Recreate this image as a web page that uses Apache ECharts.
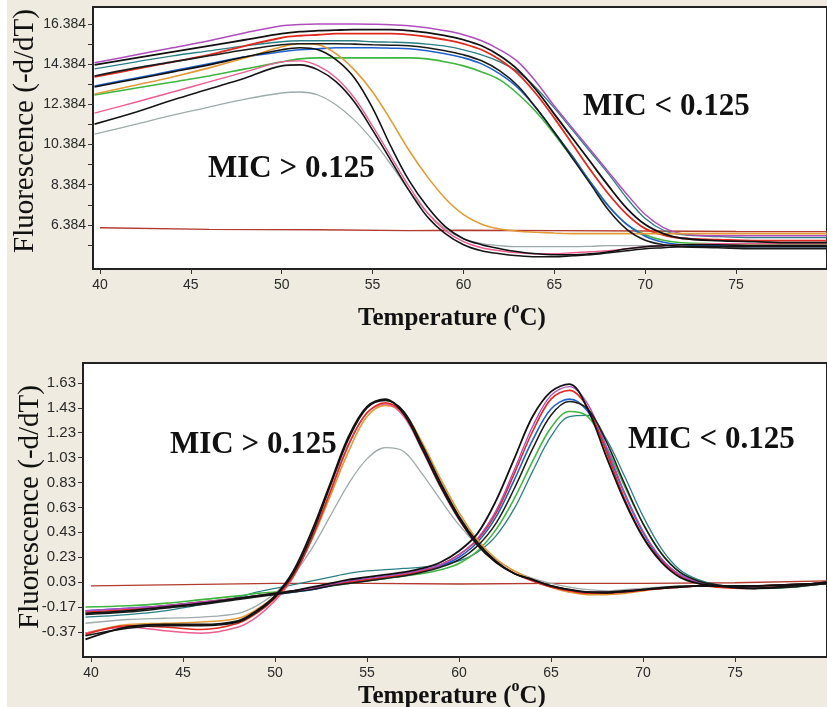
<!DOCTYPE html>
<html>
<head>
<meta charset="utf-8">
<script src="https://cdn.jsdelivr.net/npm/echarts@6/dist/echarts.min.js"></script>
<style>
  html, body { margin: 0; padding: 0; background: #ffffff; }
  #chart { width: 827px; height: 707px; }
</style>
</head>
<body>
<div id="chart"></div>
<script>
// ---- top panel: melt curves (fluorescence vs temperature) ----
const topTemps = [39.7, 42, 44, 46, 48, 50, 51, 52, 53, 54, 55, 56, 57, 58, 59, 60, 61, 62, 63, 64, 65, 66, 67, 68, 69, 70, 71, 72, 74, 76, 78, 80];

// MIC < 0.125 (melt ~66 C)
const topMagenta = [14.45, 14.85, 15.2, 15.55, 15.95, 16.3, 16.36, 16.38, 16.38, 16.38, 16.37, 16.35, 16.3, 16.2, 16.05, 15.85, 15.55, 15.1, 14.5, 13.5, 12.3, 11.2, 10.1, 9.0, 7.9, 6.9, 6.25, 5.95, 5.85, 5.85, 5.85, 5.85];
const topBlackB1 = [14.35, 14.7, 15.0, 15.3, 15.6, 15.9, 16.0, 16.05, 16.08, 16.1, 16.1, 16.1, 16.05, 15.95, 15.8, 15.6, 15.3, 14.8, 14.1, 13.1, 11.9, 10.7, 9.5, 8.3, 7.2, 6.4, 5.95, 5.72, 5.6, 5.55, 5.5, 5.5];
const topRedB = [13.75, 14.15, 14.5, 14.85, 15.3, 15.7, 15.8, 15.85, 15.9, 15.9, 15.9, 15.9, 15.85, 15.75, 15.6, 15.4, 15.1, 14.6, 13.9, 12.9, 11.7, 10.4, 9.1, 7.9, 6.9, 6.2, 5.88, 5.72, 5.65, 5.6, 5.6, 5.6];
const topTeal = [14.15, 14.5, 14.8, 15.05, 15.3, 15.5, 15.55, 15.55, 15.55, 15.55, 15.5, 15.48, 15.45, 15.38, 15.28, 15.1, 14.85, 14.5, 14.0, 13.2, 12.2, 11.1, 10.0, 8.9, 7.7, 6.7, 6.12, 5.9, 5.8, 5.75, 5.75, 5.75];
const topBlackB2 = [13.8, 14.2, 14.5, 14.8, 15.1, 15.35, 15.4, 15.4, 15.4, 15.38, 15.35, 15.33, 15.3, 15.2, 15.05, 14.85, 14.55, 14.05, 13.3, 12.2, 11.0, 9.7, 8.4, 7.1, 6.15, 5.62, 5.4, 5.3, 5.25, 5.2, 5.2, 5.2];
const topBlue = [13.3, 13.7, 14.05, 14.4, 14.75, 15.0, 15.1, 15.15, 15.2, 15.2, 15.2, 15.18, 15.15, 15.05, 14.9, 14.7, 14.4, 13.9, 13.2, 12.2, 11.0, 9.8, 8.5, 7.3, 6.4, 5.82, 5.52, 5.4, 5.35, 5.3, 5.3, 5.3];
const topGreen = [12.85, 13.2, 13.5, 13.8, 14.15, 14.5, 14.65, 14.7, 14.7, 14.7, 14.7, 14.7, 14.7, 14.65, 14.5, 14.3, 14.0, 13.6, 12.9, 12.0, 10.9, 9.7, 8.5, 7.3, 6.4, 5.9, 5.62, 5.5, 5.45, 5.4, 5.4, 5.4];

// MIC > 0.125 (melt ~57 C)
const topBlackA1 = [13.25, 13.65, 14.0, 14.35, 14.75, 15.1, 15.2, 15.1, 14.6, 13.7, 12.2, 10.3, 8.6, 7.3, 6.3, 5.7, 5.4, 5.2, 5.05, 4.95, 4.9, 4.9, 4.95, 5.05, 5.2, 5.3, 5.35, 5.4, 5.4, 5.35, 5.35, 5.35];
const topOrange = [12.9, 13.35, 13.75, 14.2, 14.7, 15.25, 15.4, 15.35, 14.9, 14.1, 13.0, 11.6, 10.1, 8.8, 7.7, 6.9, 6.42, 6.18, 6.07, 6.02, 5.98, 5.95, 5.95, 5.95, 5.95, 5.95, 5.95, 5.95, 5.95, 5.95, 5.95, 5.95];
const topPink = [11.95, 12.5, 13.0, 13.5, 14.0, 14.5, 14.55, 14.3, 13.7, 12.7, 11.3, 9.8, 8.3, 7.0, 6.1, 5.55, 5.25, 5.1, 5.0, 4.95, 4.95, 5.0, 5.05, 5.1, 5.2, 5.3, 5.35, 5.4, 5.45, 5.45, 5.45, 5.45];
const topBlackA2 = [11.4, 12.0, 12.6, 13.15, 13.7, 14.3, 14.35, 14.1, 13.5, 12.5, 11.1, 9.6, 8.1, 6.8, 5.95, 5.4, 5.1, 4.95, 4.85, 4.8, 4.8, 4.85, 4.9, 5.0, 5.1, 5.2, 5.25, 5.3, 5.3, 5.3, 5.3, 5.3];
const topGray = [10.9, 11.4, 11.85, 12.25, 12.65, 12.95, 13.0, 12.85, 12.35, 11.6, 10.6, 9.4, 8.1, 7.0, 6.2, 5.7, 5.45, 5.35, 5.3, 5.3, 5.3, 5.3, 5.32, 5.35, 5.35, 5.35, 5.35, 5.35, 5.35, 5.35, 5.35, 5.35];

// control (no template), read as a near-flat line
const topCtrlTemps = [40, 46, 52, 57, 60, 65, 70, 75, 80];
const topControl = [6.24, 6.16, 6.14, 6.1, 6.12, 6.1, 6.08, 6.06, 6.05];

const topYLabels = [6.384, 8.384, 10.384, 12.384, 14.384, 16.384];
const topYTicks = [5.384, 6.384, 7.384, 8.384, 9.384, 10.384, 11.384, 12.384, 13.384, 14.384, 15.384, 16.384];

// ---- bottom panel: derivative curves ----
const botTemps = [39.7, 42, 44, 46, 48, 49, 50, 51, 52, 53, 54, 55, 56, 57, 58, 59, 60, 61, 62, 63, 64, 65, 66, 67, 68, 69, 70, 71, 72, 73, 74, 76, 78, 80];

// MIC < 0.125 (peak ~66 C)
const botBlackB1 = [-0.22, -0.2, -0.17, -0.14, -0.1, -0.08, -0.06, -0.04, -0.01, 0.02, 0.05, 0.07, 0.09, 0.11, 0.14, 0.19, 0.28, 0.42, 0.68, 1.02, 1.36, 1.56, 1.62, 1.42, 1.04, 0.68, 0.39, 0.19, 0.07, 0.02, 0.0, -0.02, 0.0, 0.03];
const botMagenta = [-0.2, -0.18, -0.16, -0.13, -0.1, -0.08, -0.06, -0.04, -0.02, 0.01, 0.04, 0.06, 0.08, 0.1, 0.13, 0.17, 0.25, 0.38, 0.6, 0.93, 1.28, 1.53, 1.6, 1.46, 1.12, 0.75, 0.44, 0.22, 0.09, 0.03, 0.0, -0.02, 0.0, 0.03];
const botRedB = [-0.21, -0.19, -0.16, -0.13, -0.1, -0.08, -0.06, -0.04, -0.02, 0.01, 0.03, 0.05, 0.07, 0.09, 0.12, 0.17, 0.25, 0.37, 0.58, 0.9, 1.24, 1.5, 1.57, 1.43, 1.08, 0.7, 0.4, 0.2, 0.08, 0.02, -0.01, -0.02, 0.0, 0.03];
const botBlue = [-0.2, -0.18, -0.16, -0.13, -0.1, -0.08, -0.07, -0.05, -0.03, 0.0, 0.03, 0.05, 0.07, 0.09, 0.12, 0.16, 0.23, 0.35, 0.55, 0.85, 1.17, 1.42, 1.5, 1.4, 1.1, 0.74, 0.43, 0.21, 0.09, 0.03, 0.0, -0.02, 0.0, 0.03];
const botBlackB2 = [-0.23, -0.21, -0.18, -0.15, -0.11, -0.09, -0.07, -0.05, -0.03, 0.0, 0.02, 0.04, 0.06, 0.08, 0.11, 0.15, 0.21, 0.32, 0.5, 0.78, 1.1, 1.37, 1.48, 1.42, 1.16, 0.82, 0.5, 0.26, 0.11, 0.04, 0.01, -0.02, -0.01, 0.02];
const botGreen = [-0.17, -0.16, -0.14, -0.11, -0.08, -0.06, -0.05, -0.04, -0.02, 0.0, 0.02, 0.04, 0.06, 0.08, 0.1, 0.13, 0.18, 0.28, 0.45, 0.7, 1.0, 1.27, 1.4, 1.36, 1.12, 0.8, 0.5, 0.26, 0.11, 0.04, 0.0, -0.02, -0.01, 0.02];
const botTeal = [-0.25, -0.23, -0.2, -0.15, -0.09, -0.05, -0.02, 0.01, 0.04, 0.07, 0.1, 0.12, 0.13, 0.14, 0.15, 0.17, 0.2, 0.27, 0.4, 0.62, 0.92, 1.2, 1.36, 1.37, 1.18, 0.88, 0.56, 0.3, 0.13, 0.05, 0.01, -0.02, -0.01, 0.02];

// MIC > 0.125 (peak ~56 C)
const botBlackA1 = [-0.43, -0.33, -0.31, -0.31, -0.28, -0.2, -0.08, 0.12, 0.44, 0.82, 1.2, 1.44, 1.5, 1.38, 1.1, 0.8, 0.54, 0.33, 0.19, 0.1, 0.05, 0.0, -0.03, -0.05, -0.055, -0.045, -0.03, -0.015, -0.005, 0.0, 0.0, 0.0, 0.01, 0.02];
const botRedA = [-0.39, -0.32, -0.33, -0.35, -0.3, -0.22, -0.1, 0.08, 0.38, 0.75, 1.13, 1.39, 1.47, 1.38, 1.12, 0.82, 0.55, 0.34, 0.2, 0.1, 0.04, -0.01, -0.04, -0.06, -0.06, -0.05, -0.035, -0.02, -0.01, 0.0, 0.0, 0.0, 0.01, 0.02];
const botOrange = [-0.38, -0.31, -0.3, -0.29, -0.26, -0.19, -0.08, 0.09, 0.37, 0.72, 1.08, 1.36, 1.45, 1.39, 1.15, 0.86, 0.59, 0.37, 0.22, 0.12, 0.05, -0.01, -0.05, -0.07, -0.07, -0.06, -0.04, -0.02, -0.01, 0.0, 0.0, 0.0, 0.01, 0.02];
const botPink = [-0.38, -0.33, -0.36, -0.38, -0.33, -0.25, -0.12, 0.07, 0.38, 0.76, 1.14, 1.39, 1.46, 1.36, 1.09, 0.79, 0.53, 0.33, 0.19, 0.1, 0.04, -0.01, -0.04, -0.05, -0.05, -0.04, -0.03, -0.02, -0.01, 0.0, 0.0, 0.0, 0.01, 0.02];
const botBlackA2 = [-0.4, -0.34, -0.32, -0.32, -0.29, -0.21, -0.09, 0.1, 0.41, 0.8, 1.18, 1.43, 1.49, 1.4, 1.13, 0.83, 0.56, 0.35, 0.2, 0.1, 0.05, 0.0, -0.03, -0.05, -0.05, -0.04, -0.03, -0.02, -0.01, 0.0, 0.0, 0.0, 0.01, 0.02];
const botGray = [-0.3, -0.27, -0.26, -0.25, -0.22, -0.16, -0.06, 0.09, 0.3, 0.56, 0.82, 1.02, 1.11, 1.08, 0.9, 0.69, 0.49, 0.33, 0.21, 0.12, 0.06, 0.02, -0.01, -0.03, -0.04, -0.03, -0.02, -0.01, 0.0, 0.0, 0.0, 0.0, 0.01, 0.02];

// control
const botCtrlTemps = [40, 45, 50, 55, 60, 65, 70, 75, 80];
const botControl = [0.0, 0.01, 0.02, 0.02, 0.015, 0.02, 0.02, 0.025, 0.04];

const botYLabels = [-0.37, -0.17, 0.03, 0.23, 0.43, 0.63, 0.83, 1.03, 1.23, 1.43, 1.63];
const xLabels = [40, 45, 50, 55, 60, 65, 70, 75];

// series list: [temps, values, color, width, smooth] – drawn in this order
const topList = [
  [topCtrlTemps, topControl, '#b33a2e', 1.4, false],
  [topTemps, topGray, '#9fabab', 1.3, 0.35],
  [topTemps, topGreen, '#3db63d', 1.6, 0.35],
  [topTemps, topBlue, '#2060cc', 1.6, 0.35],
  [topTemps, topTeal, '#2a7f86', 1.3, 0.35],
  [topTemps, topRedB, '#e02a20', 1.8, 0.35],
  [topTemps, topMagenta, '#b04dbe', 1.5, 0.35],
  [topTemps, topOrange, '#e39a35', 1.6, 0.35],
  [topTemps, topPink, '#ee5c90', 1.4, 0.35],
  [topTemps, topBlackB2, '#1c1c1c', 1.6, 0.35],
  [topTemps, topBlackB1, '#111111', 1.8, 0.35],
  [topTemps, topBlackA2, '#151515', 1.6, 0.35],
  [topTemps, topBlackA1, '#111111', 1.6, 0.35]
];
const botList = [
  [botCtrlTemps, botControl, '#b33a2e', 1.4, false],
  [botTemps, botGray, '#9fabab', 1.3, 0.35],
  [botTemps, botTeal, '#2a7f86', 1.3, 0.35],
  [botTemps, botGreen, '#3db63d', 1.6, 0.35],
  [botTemps, botBlue, '#2060cc', 1.6, 0.35],
  [botTemps, botRedB, '#e02a20', 1.6, 0.35],
  [botTemps, botMagenta, '#b04dbe', 1.4, 0.35],
  [botTemps, botOrange, '#e39a35', 1.6, 0.35],
  [botTemps, botPink, '#ee5c90', 1.5, 0.35],
  [botTemps, botRedA, '#e02a20', 1.5, 0.35],
  [botTemps, botBlackB2, '#1c1c1c', 1.5, 0.35],
  [botTemps, botBlackB1, '#111111', 1.8, 0.35],
  [botTemps, botBlackA2, '#151515', 1.6, 0.35],
  [botTemps, botBlackA1, '#111111', 1.8, 0.35]
];

const pairs = (ts, vs) => ts.map((t, i) => [t, vs[i]]);

const makeSeries = (list, idx) => list.map(([temps, vals, color, width, smooth]) => ({
  type: 'line',
  xAxisIndex: idx,
  yAxisIndex: idx,
  data: pairs(temps, vals),
  showSymbol: false,
  smooth: smooth,
  silent: true,
  lineStyle: { color: color, width: width },
  animation: false
}));

const tickFont = { fontFamily: 'Liberation Sans, Arial, sans-serif', color: '#2a2a2a' };
const serif = 'Liberation Serif, Times New Roman, serif';

const chart = echarts.init(document.getElementById('chart'), null, { renderer: 'canvas' });

const xAxisBase = (gridIndex, min, max) => ({
  type: 'value',
  gridIndex: gridIndex,
  min: min,
  max: max,
  axisLine: { show: false, onZero: false },
  splitLine: { show: false },
  axisTick: { show: true, length: 5, customValues: xLabels, lineStyle: { color: '#333' } },
  axisLabel: { customValues: xLabels, fontSize: 14, margin: 9, ...tickFont }
});

chart.setOption({
  backgroundColor: '#efebe0',
  animation: false,
  grid: [
    { left: 93, top: 7, right: -2, height: 262, show: true, backgroundColor: '#ffffff', borderColor: '#222', borderWidth: 2 },
    { left: 83, top: 363, right: -4, height: 294, show: true, backgroundColor: '#ffffff', borderColor: '#222', borderWidth: 2 }
  ],
  xAxis: [
    xAxisBase(0, 39.616, 80),
    xAxisBase(1, 39.567, 80)
  ],
  yAxis: [
    {
      type: 'value',
      gridIndex: 0,
      min: 4.19,
      max: 17.23,
      axisLine: { show: false, onZero: false },
      splitLine: { show: false },
      axisTick: { show: true, length: 5, customValues: topYTicks, lineStyle: { color: '#333' } },
      axisLabel: { customValues: topYLabels, fontSize: 14, margin: 7, formatter: v => v.toFixed(3), ...tickFont }
    },
    {
      type: 'value',
      gridIndex: 1,
      min: -0.571,
      max: 1.79,
      axisLine: { show: false, onZero: false },
      splitLine: { show: false },
      axisTick: { show: true, length: 5, customValues: botYLabels, lineStyle: { color: '#333' } },
      axisLabel: { customValues: botYLabels, fontSize: 15, margin: 7, formatter: v => v.toFixed(2), ...tickFont }
    }
  ],
  series: [
    ...makeSeries(topList, 0),
    ...makeSeries(botList, 1)
  ],
  graphic: [
    // white strip on the far left of the figure
    { type: 'rect', left: 0, top: 0, shape: { width: 7, height: 707 }, style: { fill: '#ffffff' }, z: -1 },
    // axis titles
    { type: 'text', x: 25, y: 131, rotation: Math.PI / 2,
      style: { text: 'Fluorescence (-d/dT)', font: '29px ' + serif, fill: '#111', align: 'center', verticalAlign: 'middle' } },
    { type: 'text', x: 30, y: 507, rotation: Math.PI / 2,
      style: { text: 'Fluorescence (-d/dT)', font: '29px ' + serif, fill: '#111', align: 'center', verticalAlign: 'middle' } },
    { type: 'text', x: 452, y: 316,
      style: {
        text: '{m|Temperature (}{s|o}{m|C)}', align: 'center', verticalAlign: 'middle',
        rich: {
          m: { font: 'bold 25px ' + serif, fill: '#111', lineHeight: 30, verticalAlign: 'bottom' },
          s: { font: 'bold 16px ' + serif, fill: '#111', lineHeight: 30, verticalAlign: 'top' }
        }
      } },
    { type: 'text', x: 452, y: 694,
      style: {
        text: '{m|Temperature (}{s|o}{m|C)}', align: 'center', verticalAlign: 'middle',
        rich: {
          m: { font: 'bold 25px ' + serif, fill: '#111', lineHeight: 30, verticalAlign: 'bottom' },
          s: { font: 'bold 16px ' + serif, fill: '#111', lineHeight: 30, verticalAlign: 'top' }
        }
      } },
    // group annotations
    { type: 'text', x: 208, y: 169, z: 10,
      style: { text: 'MIC > 0.125', font: 'bold 31px ' + serif, fill: '#111', align: 'left', verticalAlign: 'middle' } },
    { type: 'text', x: 583, y: 107, z: 10,
      style: { text: 'MIC < 0.125', font: 'bold 31px ' + serif, fill: '#111', align: 'left', verticalAlign: 'middle' } },
    { type: 'text', x: 170, y: 445, z: 10,
      style: { text: 'MIC > 0.125', font: 'bold 31px ' + serif, fill: '#111', align: 'left', verticalAlign: 'middle' } },
    { type: 'text', x: 628, y: 440, z: 10,
      style: { text: 'MIC < 0.125', font: 'bold 31px ' + serif, fill: '#111', align: 'left', verticalAlign: 'middle' } }
  ]
});
</script>
</body>
</html>
